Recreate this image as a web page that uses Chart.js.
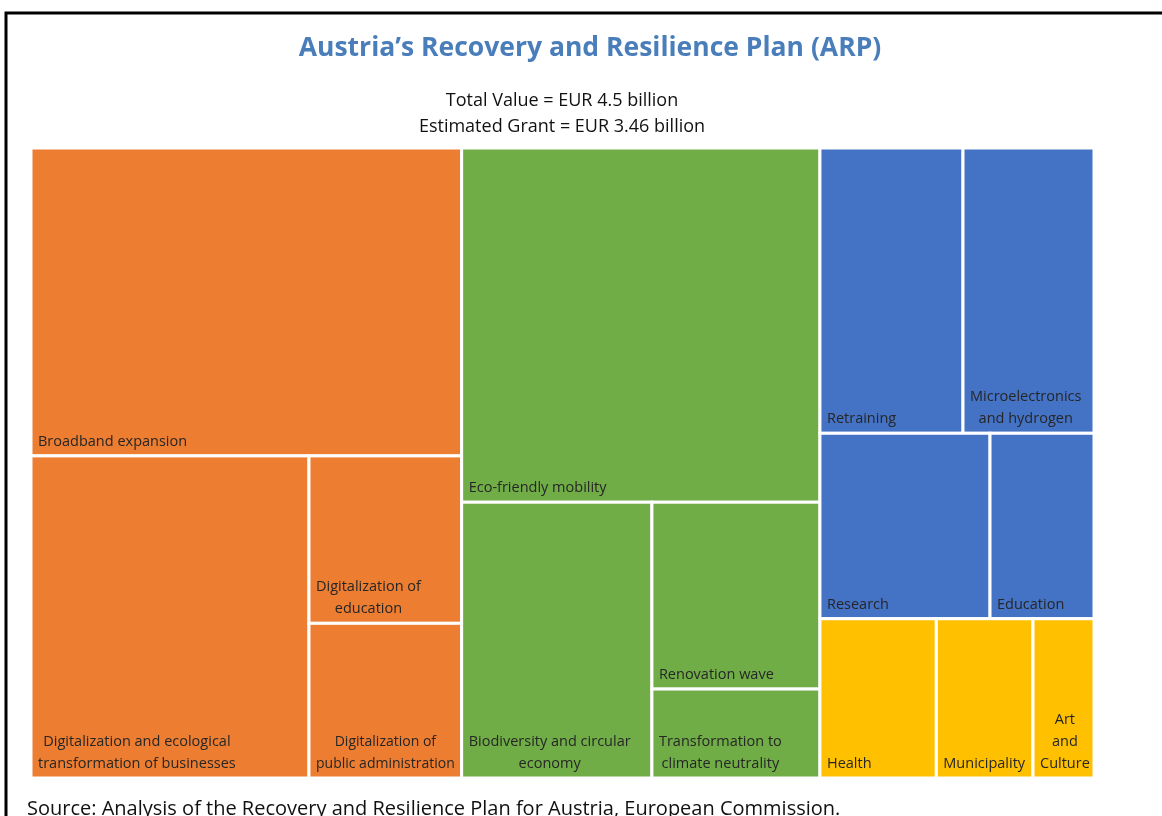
<!DOCTYPE html>
<html lang="en">
<head>
    <meta charset="UTF-8">
    <title>Austria's Recovery and Resilience Plan (ARP)</title>
    <script src="https://cdn.jsdelivr.net/npm/chart.js"></script>
    <style>
        html, body { margin: 0; padding: 0; background: #fff; }
        .chart-box { position: relative; width: 1162px; height: 816px; }
    </style>
</head>
<body>
    <div class="chart-box"><canvas id="arpChart"></canvas></div>
    <script>
        // measures (EUR million)
        const categories = [
            'Broadband expansion', 'Digitalization and ecological transformation of businesses',
            'Digitalization of education', 'Digitalization of public administration',
            'Eco-friendly mobility', 'Biodiversity and circular economy',
            'Renovation wave', 'Transformation to climate neutrality',
            'Retraining', 'Microelectronics and hydrogen', 'Research', 'Education',
            'Health', 'Municipality', 'Art and Culture'
        ];
        const values = [887, 599, 171, 158, 849, 351, 210, 100, 273, 250, 211, 129, 124, 103, 65];
        const groupOf = [0, 0, 0, 0, 1, 1, 1, 1, 2, 2, 2, 2, 3, 3, 3];
        const groupColors = ['#ED7D31', '#70AD47', '#4472C4', '#FFC000'];

        const titleText = 'Austria\u2019s Recovery and Resilience Plan (ARP)';
        const subtitleLines = ['Total Value = EUR 4.5 billion', 'Estimated Grant = EUR 3.46 billion'];
        const sourceText = 'Source: Analysis of the Recovery and Resilience Plan for Austria, European Commission.';

        // binary treemap split (like d3.treemapBinary), in 0..1 data space.
        // near-square boxes are cut into columns, as Excel does
        function splitBinary(items, x0, y0, x1, y1, aspect, out) {
            if (items.length === 1) {
                out.push({ item: items[0], x0: x0, y0: y0, x1: x1, y1: y1 });
                return;
            }
            const sums = [0];
            items.forEach(d => sums.push(sums[sums.length - 1] + d.value));
            const total = sums[items.length];
            const target = total / 2;
            let k = 1;
            while (k < items.length - 1 && sums[k] < target) k++;
            if (k > 1 && (target - sums[k - 1]) < (sums[k] - target)) k--;
            const left = sums[k];
            const w = (x1 - x0) * aspect, h = (y1 - y0);
            if (w >= h * 0.9) {
                const xk = x0 + (x1 - x0) * left / total;
                splitBinary(items.slice(0, k), x0, y0, xk, y1, aspect, out);
                splitBinary(items.slice(k), xk, y0, x1, y1, aspect, out);
            } else {
                const yk = y0 + (y1 - y0) * left / total;
                splitBinary(items.slice(0, k), x0, y0, x1, yk, aspect, out);
                splitBinary(items.slice(k), x0, yk, x1, y1, aspect, out);
            }
        }

        function buildCells(aspect) {
            const groups = groupColors.map((c, g) => {
                const leaves = [];
                values.forEach((v, i) => { if (groupOf[i] === g) leaves.push({ value: v, label: categories[i], color: c }); });
                leaves.sort((a, b) => b.value - a.value);
                return { value: leaves.reduce((s, d) => s + d.value, 0), leaves: leaves };
            });
            groups.sort((a, b) => b.value - a.value);
            const groupRects = [];
            splitBinary(groups, 0, 0, 1, 1, aspect, groupRects);
            const cells = [];
            groupRects.forEach(r => splitBinary(r.item.leaves, r.x0, r.y0, r.x1, r.y1, aspect, cells));
            return cells;
        }

        function wrapText(ctx, text, maxWidth) {
            const words = text.split(' ');
            const lines = [];
            let line = '';
            words.forEach(w => {
                const test = line ? line + ' ' + w : w;
                if (line && ctx.measureText(test).width > maxWidth) {
                    lines.push(line);
                    line = w;
                } else {
                    line = test;
                }
            });
            if (line) lines.push(line);
            return lines;
        }

        const treemapPlugin = {
            id: 'treemapCells',
            beforeDatasetsDraw(chart) {
                const ctx = chart.ctx;
                const area = chart.chartArea;
                const xs = chart.scales.x, ys = chart.scales.y;
                const cells = buildCells((area.right - area.left) / (area.bottom - area.top));
                ctx.save();
                cells.forEach(c => {
                    const left = xs.getPixelForValue(c.x0), right = xs.getPixelForValue(c.x1);
                    const top = ys.getPixelForValue(c.y0), bottom = ys.getPixelForValue(c.y1);
                    ctx.fillStyle = c.item.color;
                    ctx.fillRect(left, top, right - left, bottom - top);
                    ctx.strokeStyle = '#ffffff';
                    ctx.lineWidth = 3;
                    ctx.strokeRect(left, top, right - left, bottom - top);

                    // label: bottom-left block, lines centred inside the block
                    const pad = 6;
                    const avail = right - left - 2 * pad;
                    let size = 14.5;
                    ctx.font = size + 'px "Open Sans"';
                    let lines = wrapText(ctx, c.item.label, avail);
                    while (lines.length > 2 && right - left > 80 && size > 12.5) {
                        size -= 0.5;
                        ctx.font = size + 'px "Open Sans"';
                        lines = wrapText(ctx, c.item.label, avail);
                    }
                    ctx.fillStyle = '#262626';
                    ctx.textBaseline = 'alphabetic';
                    ctx.textAlign = 'center';
                    const blockW = Math.max.apply(null, lines.map(l => ctx.measureText(l).width));
                    const cx = left + pad + 1 + blockW / 2;
                    const lineH = 22;
                    lines.forEach((l, i) => {
                        ctx.fillText(l, cx, bottom - 10 - (lines.length - 1 - i) * lineH);
                    });
                });
                ctx.restore();
            }
        };

        const textPlugin = {
            id: 'pageText',
            afterDraw(chart) {
                const ctx = chart.ctx;
                ctx.save();
                // frame
                ctx.strokeStyle = '#000000';
                ctx.lineWidth = 3;
                ctx.beginPath();
                ctx.moveTo(6, 816);
                ctx.lineTo(6, 13);
                ctx.lineTo(1162, 13);
                ctx.stroke();

                ctx.textAlign = 'center';
                ctx.fillStyle = '#4A7EBB';
                ctx.font = 'bold 26.5px "Open Sans"';
                ctx.fillText(titleText, 590, 56);

                ctx.fillStyle = '#111111';
                ctx.font = '18px "Open Sans"';
                subtitleLines.forEach((l, i) => ctx.fillText(l, 562, 106 + i * 26));

                ctx.textAlign = 'left';
                ctx.font = '20px "Open Sans"';
                ctx.fillText(sourceText, 27, 815);
                ctx.restore();
            }
        };

        new Chart(document.getElementById('arpChart'), {
            type: 'scatter',
            data: { datasets: [] },
            options: {
                responsive: true,
                maintainAspectRatio: false,
                animation: false,
                layout: { padding: { left: 31, right: 68, top: 148, bottom: 38 } },
                scales: {
                    x: { type: 'linear', min: 0, max: 1, display: false },
                    y: { type: 'linear', min: 0, max: 1, reverse: true, display: false }
                },
                plugins: {
                    legend: { display: false },
                    tooltip: { enabled: false }
                }
            },
            plugins: [treemapPlugin, textPlugin]
        });
    </script>
</body>
</html>
